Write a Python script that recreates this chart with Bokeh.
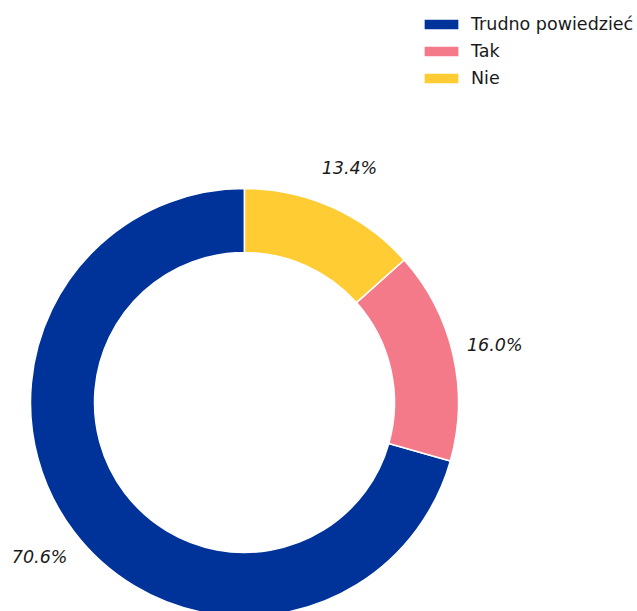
import math
import numpy as np
from bokeh.plotting import figure
from bokeh.models import Range1d, ColumnDataSource, Legend, LegendItem
from bokeh.core.properties import value
from bokeh.embed import file_html
from bokeh.resources import INLINE

categories = ["Trudno powiedzieć", "Tak", "Nie"]
values = [70.6, 16.0, 13.4]
colors = ["#003399", "#F47A8A", "#FFCC33"]

W, H = 637, 611
cx, cy = 244, 209          # centre in frame px (y from bottom)
R_out, R_in = 214, 150
label_r = 1.2 * R_out

vals = np.array(values, dtype=float)
frac = vals / vals.sum()
ends = math.pi / 2 + 2 * math.pi * np.cumsum(frac)
starts = ends - 2 * math.pi * frac
mids = (starts + ends) / 2

src = ColumnDataSource(dict(
    cat=categories, start=starts, end=ends, color=colors,
    lx=cx + label_r * np.cos(mids), ly=cy + label_r * np.sin(mids),
    lab=[f"{v:.1f}%" for v in vals],
))

p = figure(width=W, height=H, output_backend="svg", toolbar_location=None,
           x_range=Range1d(0, W), y_range=Range1d(0, H), min_border=0)
p.axis.visible = False
p.grid.visible = False
p.outline_line_color = None
p.background_fill_color = "white"

r = p.annular_wedge(x=cx, y=cy, inner_radius=R_in, outer_radius=R_out,
                    start_angle="start", end_angle="end", direction="anticlock",
                    fill_color="color", line_color="white", line_width=1.5,
                    source=src)

p.text(x="lx", y="ly", text="lab", source=src, text_align="center",
       text_baseline="middle", text_font=value("DejaVu Sans"),
       text_font_style="italic", text_font_size="17.5px", text_color="#1a1a1a")

items = [LegendItem(label=c, renderers=[r], index=i) for i, c in enumerate(categories)]
legend = Legend(items=items, location=(419, 523), orientation="vertical",
                glyph_width=44, glyph_height=14, label_height=20, spacing=7,
                label_standoff=8, padding=0, margin=0,
                label_text_font="DejaVu Sans", label_text_font_size="17.5px",
                label_text_color="#1a1a1a",
                border_line_alpha=0, background_fill_alpha=0)
p.add_layout(legend)

open("out.html", "w").write(file_html(p, INLINE))
